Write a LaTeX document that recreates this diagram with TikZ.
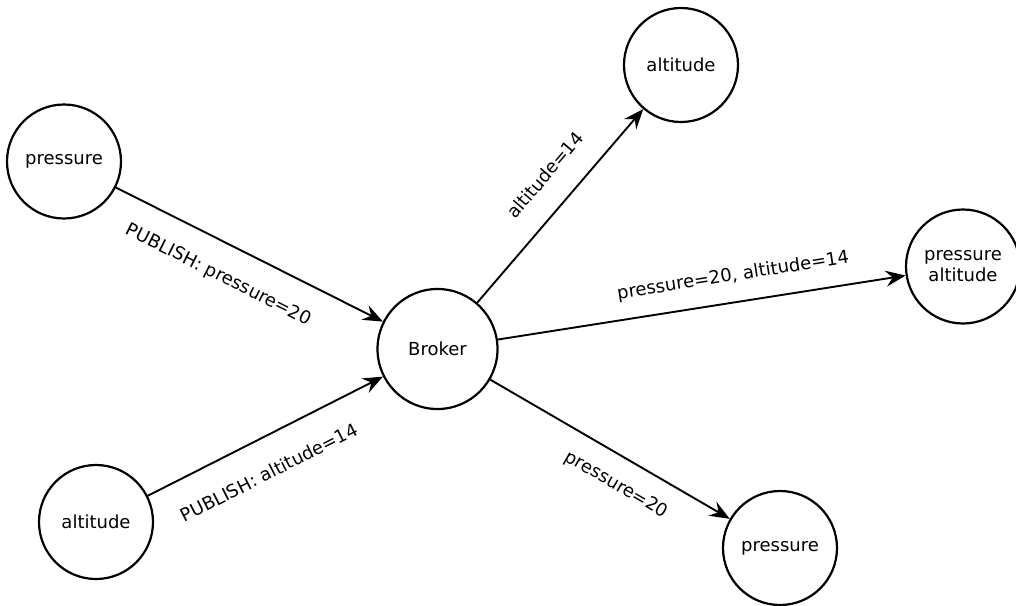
\documentclass[tikz,border=0pt]{standalone}
\usepackage{fontspec}
\setmainfont{DejaVu Sans}
\usetikzlibrary{arrows.meta}
\tikzset{
  client/.style={draw, circle, line width=1.1pt, minimum size=57pt, inner sep=0pt, align=center},
  broker/.style={client, minimum size=60pt},
  conn/.style={line width=0.95pt, -{Stealth[length=10pt,width=8pt,inset=3.5pt]}},
  lbl/.style={sloped, inner sep=0pt}
}
\begin{document}
\begin{tikzpicture}[x=0.5pt, y=-0.5pt, font=\fontsize{9}{10.5}\selectfont]
\clip (0,0) rectangle (1016,605);
\node[client] (pl) at (64,161.5) {pressure};
\node[client] (al) at (96,522) {altitude};
\node[broker] (b) at (437.5,349) {Broker};
\node[client] (at) at (681,65) {altitude};
\node[client] (pa) at (963,266.5) {pressure\\altitude};
\node[client] (pb) at (780,548) {pressure};
\draw[conn] (pl) -- node[lbl, pos=0.438, yshift=-16.2pt] {PUBLISH: pressure=20} (b);
\draw[conn] (al) -- node[lbl, pos=0.45, yshift=-17pt] {PUBLISH: altitude=14} (b);
\draw[conn] (b) -- node[lbl, pos=0.553, yshift=15.9pt] {altitude=14} (at);
\draw[conn] (b) -- node[lbl, pos=0.587, yshift=13.1pt] {pressure=20, altitude=14} (pa);
\draw[conn] (b) -- node[lbl, pos=0.584, yshift=-13.9pt] {pressure=20} (pb);
\end{tikzpicture}
\end{document}
